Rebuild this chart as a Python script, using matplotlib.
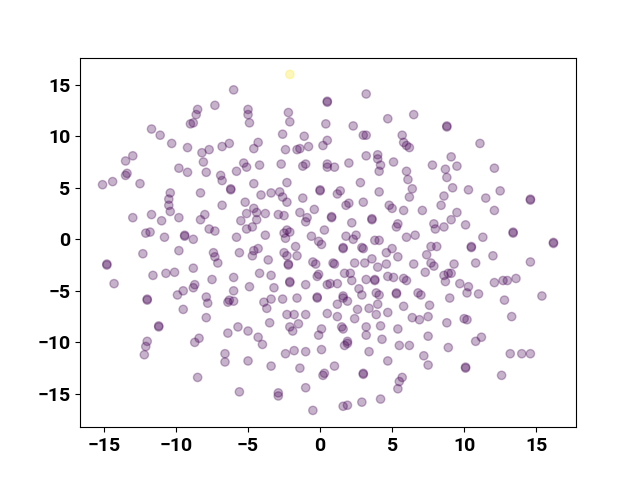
import matplotlib
matplotlib.use("Agg")
import matplotlib.pyplot as plt

# 2-D embedding coordinates
x = [
    -8.5, -8.6, -9.0, -8.8, -11.7, -11.1, -10.3, -9.2, -8.2, -7.7, -8.1, -7.9, -9.8, -9.2,
    -13.0, -13.5, -13.4, -13.5, -14.4, -15.1, -12.5, -2.1, -6.0, -7.3, -5.0, -5.0, -4.9,
    -2.2, -2.1, 0.5, 0.5, 0.4, -2.6, -1.1, -4.3, -4.6, -6.3, -6.8, -2.4, -1.6, -1.4, -0.8,
    0.2, 0.5, -5.3, -5.1, -5.8, -4.2, -2.7, -1.2, -1.0, 0.5, 0.5, -6.9, -6.8, -4.6, -2.3,
    3.2, 4.7, 6.5, 2.3, 3.0, 3.2, 5.7, 5.8, 6.0, 6.2, 8.8, 8.8, 3.2, 4.0, 4.0, 4.2, 4.1,
    5.1, 2.0, 1.0, 2.8, 6.0, 6.1, 7.8, 8.7, 8.8, 9.1, 11.1, 9.5, 12.1,
    -10.4, -10.5, -10.5, -10.4, -8.3, -13.0, -11.7, -11.0, -9.8, -8.0, -8.3, -7.7, -12.1,
    -11.8, -10.8, -9.4, -9.4, -8.8, -12.3, -9.8, -14.8, -14.8, -11.6, -10.7, -10.1, -8.8,
    -14.3, -8.7, -8.8, -9.5, -9.9, -7.9, -12.0, -12.0, -7.5,
    -6.2, -6.2, -4.1, -3.4, -2.8, -2.6, -2.3, -1.2, 0.0, 0.0, -6.8, -5.2, -5.1, -4.6, -4.4,
    -4.4, -4.7, -5.1, -5.5, -3.8, -2.9, -2.5, -1.4, -0.4, -0.9, -1.0, -7.3, -5.8, -3.8,
    -2.5, -2.3, -2.1, -2.4, -0.6, -0.1, 0.1, 0.3, -1.7, -1.6, -2.5, -2.3, -2.2, -2.2, -3.6,
    -4.6, -4.3, -4.7, -5.6, -7.4, -7.3, -7.1, -6.0, -4.2, -3.4, -0.5, -0.3, -0.1, -0.2,
    -2.1, -2.1, -1.0, -4.9, -3.2, -6.0, -3.4, -1.6, -0.2, -0.2, 0.5,
    6.4, 1.4, 1.2, 4.1, 6.2, 2.0, 1.8, 3.0, 4.8, 5.0, 5.8, 7.1, 8.4, 8.6, 0.8, 0.8, 2.2,
    3.6, 3.6, 5.4, 5.3, 7.9, 8.0, 8.6, 1.8, 2.3, 2.5, 3.8, 4.1, 6.0, 6.6, 1.6, 1.6, 2.9,
    3.0, 4.6, 5.0, 5.4, 7.7, 8.1, 7.4, 1.0, 0.9, 2.4, 3.1, 3.6, 4.0, 4.6, 6.5, 7.7, 7.9,
    7.3, 1.7, 2.1, 2.2, 3.2, 3.8, 3.8, 4.7, 5.1, 5.8, 6.0, 8.6, 8.7, 0.7, 1.2, 2.7, 2.9,
    3.9, 4.1, 5.3, 5.3, 6.8, 7.0, 1.6,
    9.2, 10.3, 12.5, 11.5, 14.6, 14.6, 9.5, 9.1, 12.1, 10.1, 13.4, 13.4, 11.3, 16.2, 16.2,
    10.5, 10.5, 12.0, 9.3, 8.9, 9.1, 10.8, 14.6, 9.7, 10.3, 10.2, 11.0, 12.1, 12.7, 13.0,
    13.6, 9.0, 12.8, 15.4,
    -11.2, -11.2, -12.0, -12.1, -12.2, -9.5, -7.8, -7.9, -8.4, -8.7, -8.5, -6.3, -6.4,
    -6.0, -3.9, -3.7, -2.6, -2.3, -1.8, -1.0, 0.5, -3.5, -2.1, -1.9, -1.5, 0.1, -0.1,
    -5.7, -5.0, -6.4, -4.3, -4.0, -6.6, -6.6, -5.0, -3.4, -2.4, -1.8, -1.0, 0.1, -1.4,
    0.3, 0.2, -5.6, -2.9, -2.9, -1.0, -0.5,
    1.2, 1.6, 1.9, 3.4, 3.9, 4.0, 2.6, 1.2, 2.4, 4.7, 5.8, 7.6, 6.4, 6.9, 7.5, 8.8, 1.5,
    1.6, 3.2, 3.2, 4.2, 5.4, 1.9, 1.7, 1.9, 4.3, 3.4, 5.5, 6.2, 7.2, 4.7, 7.5, 7.5, 8.9,
    1.0, 3.0, 3.0, 5.7, 5.5, 5.4, 4.2, 2.9, 1.6, 1.9,
    10.0, 10.2, 13.3, 10.8, 11.2, 13.2, 14.0, 14.6, 10.1, 10.1, 12.6,
]
y = [
    12.6, 12.1, 11.2, 11.3, 10.7, 10.1, 9.3, 8.9, 8.4, 8.7, 7.5, 6.5, 6.9, 6.5,
    8.1, 7.6, 6.4, 6.2, 5.6, 5.3, 5.4, 16.0, 14.5, 13.0, 12.6, 12.1, 11.3,
    12.3, 11.4, 13.4, 13.3, 11.2, 10.2, 10.0, 9.4, 8.8, 9.3, 9.0, 8.7, 8.7, 8.8, 9.0,
    9.1, 9.6, 7.4, 7.0, 6.6, 7.2, 7.3, 7.1, 7.3, 7.3, 7.0, 6.2, 5.7, 5.4, 5.5,
    14.1, 11.7, 12.1, 11.0, 10.1, 10.1, 10.1, 9.4, 9.1, 8.9, 10.9, 11.0, 8.1, 8.2, 7.8, 7.2, 6.6,
    7.5, 7.4, 7.0, 5.5, 6.6, 5.8, 7.2, 6.8, 6.0, 8.0, 9.3, 7.1, 6.9,
    4.5, 3.9, 3.3, 2.7, 4.5, 2.1, 2.4, 1.8, 2.1, 2.4, 1.9, 1.0, 0.6,
    0.7, 0.2, 0.3, 0.4, 0.0, -1.4, -1.1, -2.5, -2.4, -3.5, -3.3, -3.2, -2.8,
    -4.3, -4.4, -4.7, -5.0, -5.4, -5.6, -5.8, -5.9, -3.9,
    4.8, 4.9, 4.3, 4.5, 4.6, 4.1, 3.6, 4.0, 4.7, 4.8, 3.3, 3.6, 2.5, 3.0, 2.6,
    1.9, 1.2, 1.0, 1.8, 2.5, 2.4, 2.3, 2.6, 2.9, 2.1, 1.7, 0.8, 0.2, 0.4,
    0.6, 0.9, 0.7, 0.1, 0.3, -0.2, -0.5, 0.9, -0.7, -1.6, -1.3, -1.6, -2.4, -2.5, -2.0,
    -1.1, -0.9, -1.6, -1.3, -1.3, -1.7, -2.3, -3.7, -3.3, -3.5, -2.2, -2.4, -3.4, -3.6,
    -4.2, -4.1, -4.4, -4.6, -4.7, -5.0, -5.8, -5.7, -5.6, -5.7, -4.4,
    4.9, 4.7, 4.4, 4.6, 4.1, 3.5, 3.3, 3.6, 3.3, 3.0, 2.8, 2.8, 3.3, 4.2, 2.2, 2.1, 1.6,
    2.0, 1.9, 1.5, 1.2, 1.5, 1.0, 1.2, 0.3, 0.0, 0.4, -0.1, -0.1, 0.2, 0.4, -0.8, -0.9, -0.8,
    -0.9, -1.3, -0.9, -1.7, -0.7, -0.7, -1.5, -2.4, -2.3, -2.3, -2.3, -1.9, -2.7, -2.4, -2.4, -2.3, -2.6,
    -3.2, -3.3, -3.3, -4.0, -3.9, -3.9, -4.0, -3.6, -3.7, -3.8, -4.0, -3.5, -4.1, -4.3, -4.3, -4.8, -5.4,
    -5.2, -5.4, -5.2, -5.3, -5.2, -5.4, -5.5,
    5.0, 4.8, 4.7, 4.0, 3.9, 3.8, 2.6, 1.9, 2.8, 1.4, 0.6, 0.7, 0.2, -0.3, -0.4,
    -0.7, -0.8, -1.6, -2.4, -3.3, -3.3, -2.3, -2.2, -4.3, -4.6, -5.2, -5.3, -4.2, -4.0, -4.0,
    -3.8, -5.7, -5.9, -5.5,
    -8.5, -8.4, -9.9, -10.4, -11.2, -6.8, -6.2, -7.6, -9.6, -10.0, -13.4, -5.9, -6.1,
    -6.0, -6.1, -6.7, -5.8, -7.3, -7.3, -7.3, -7.2, -8.1, -8.5, -8.9, -8.2, -8.7, -9.3,
    -8.5, -8.9, -9.1, -9.5, -10.2, -11.1, -11.9, -11.8, -12.3, -11.1, -10.8, -10.9, -10.7, -12.5,
    -13.0, -13.2, -14.8, -14.9, -15.2, -14.4, -16.6,
    -6.3, -5.7, -6.0, -6.7, -7.3, -6.3, -6.8, -7.5, -7.7, -7.1, -6.5, -6.4, -7.6, -7.8, -7.5, -8.1, -8.5,
    -8.7, -8.5, -9.3, -8.4, -8.7, -9.9, -10.3, -10.1, -9.7, -10.9, -10.3, -10.3, -11.3, -11.8, -12.2, -9.4, -10.5,
    -12.3, -13.0, -13.1, -13.4, -13.8, -14.5, -15.5, -15.8, -16.2, -16.1,
    -7.7, -7.8, -7.5, -9.9, -9.5, -11.1, -11.1, -11.1, -12.5, -12.4, -13.2,
]
# cluster label per point: one outlier (yellow), the rest belong to group 0
labels = [0] * len(x)
labels[21] = 1


def main():
    fig, ax = plt.subplots(figsize=(6.4, 4.8), dpi=100)
    ax.scatter(x, y, c=labels, cmap="viridis", alpha=0.3)
    for lab in ax.get_xticklabels() + ax.get_yticklabels():
        lab.set_fontfamily("Roboto")
        lab.set_fontweight("bold")
        lab.set_fontsize(14)
    fig.savefig("out.png")
    plt.close(fig)


if __name__ == "__main__":
    main()
